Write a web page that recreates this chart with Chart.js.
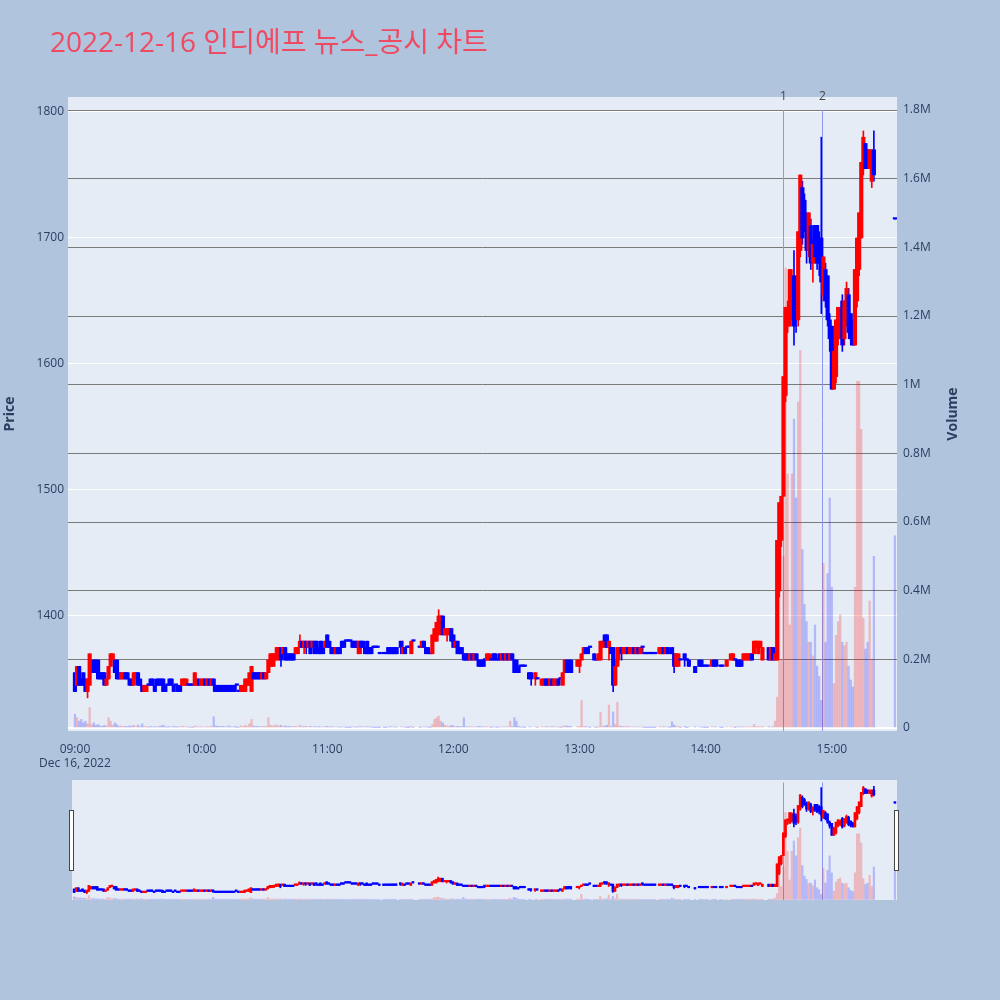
<!DOCTYPE html>
<html>
<head>
<meta charset="utf-8">
<script src="https://cdn.jsdelivr.net/npm/chart.js@4.4.0/dist/chart.umd.min.js"></script>
<style>
  body { margin: 0; width: 1000px; height: 1000px; background: #b0c4de; position: relative; overflow: hidden;
         font-family: "Open Sans", "Noto Sans CJK KR", sans-serif; }
  #main { position: absolute; left: 0; top: 0; }
  #slider { position: absolute; left: 72px; top: 780px; background: #e5ecf6; }
  #title { position: absolute; left: 50px; top: 20px; font-size: 28px; color: #ef4a62; white-space: nowrap; }
  .handle { position: absolute; top: 810px; width: 3px; height: 59px; background: #fff; border: 1px solid #444; }
</style>
</head>
<body>
<canvas id="main" width="1000" height="770"></canvas>
<canvas id="slider" width="825" height="120"></canvas>
<div class="handle" style="left:69px"></div>
<div class="handle" style="left:894px"></div>
<div id="title">2022-12-16 인디에프 뉴스_공시 차트</div>
<script>
// one entry per minute from 09:00 (index 0) to 15:30 (index 390); null = no trade
const open = [
  1355,1345,1360,1350,1355,1350,1340,1345,1355,1365, // 09:00
  1365,1365,1355,1355,1355,1345,1350,1360,1365,1365,
  1365,1355,1350,1350,1355,1355,1350,1350,1345,1350,
  1355,1350,1345,1340,1340,1345,1350,1350,1345,1350,
  1350,1350,1350,1345,1345,1350,1350,1345,1345,1345,
  1345,1345,1345,1345,1345,1345,1345,1345,1345,1350,
  1345,1345,1350,1345,1350,1345,1350,1345,1345,1345, // 10:00
  1345,1345,1345,1345,1345,1345,1345,1345,1340,1340,
  1340,1340,1345,1345,1340,1355,1355,1355,1355,1350,
  1355,1350,1355,1360,1360,1365,1365,1370,1375,1370,
  1375,1370,1370,1370,1370,1370,1370,1375,1380,1375,
  1380,1375,1380,1375,1380,1380,1375,1380,1375,1375,
  1385,1380,1375,1375,1370,1375,1375,1380,1380,1380, // 11:00
  1380,1380,1380,1380,1380,1370,1380,1380,1375,1380,
  1375,1375,1375,1375,1375,1370,null,1370,1370,1375,
  1375,1375,1375,1375,null,1380,1370,1375,1375,1375,
  1370,1380,null,null,1375,1375,1380,1375,1375,1370,
  1370,1380,1380,1385,1390,1400,1385,1385,1385,1390,
  1385,1375,1380,1375,1375,1370,1370,1370,1365,1370, // 12:00
  1365,1370,1365,1365,1365,1365,1365,1365,1365,1370,
  1370,1365,1370,1365,1370,1365,1370,1365,1370,1365,
  1365,1360,1360,1360,1360,null,1355,1355,null,1350,
  1350,null,1345,1345,1350,1350,1345,1350,1345,1345,
  1350,1350,1345,1355,1365,1365,1365,null,null,1360,
  1360,1365,1370,1375,1375,1375,null,1370,1365,1365, // 13:00
  1365,1375,1385,1385,1375,1375,1375,1345,1360,1370,
  1375,1370,1370,1375,1370,1370,1375,1370,1375,1370,
  1375,1370,1370,1370,1370,1370,1370,null,1370,1370,
  1375,1370,1375,1370,1375,1370,1360,1360,1365,null,
  1370,1365,1365,null,null,1360,null,1365,1365,1360,
  1360,1360,null,1360,1365,1365,null,1360,1360,null, // 14:00
  1360,null,1365,1365,1365,1365,1365,1365,1365,1365,
  1365,1365,1370,1370,1375,1370,1375,1365,null,null,
  1375,1365,1375,1365,1365,1420,1460,1495,1575,1640,
  1630,1640,1670,1660,1635,1690,1740,1730,1715,1690,
  1710,1680,1710,1710,1700,1700,1655,1675,1670,1635,
  1630,1580,1590,1620,1625,1650,1620,1635,1655,1640, // 15:00
  1630,1615,1650,1675,1700,1755,1775,1770,1755,1745,
  1770,null,null,null,null,null,null,null,null,null,
  1715
];
const high = [
  1355,1360,1360,1350,1355,1350,1350,1370,1365,1365,
  1365,1365,1355,1355,1355,1350,1360,1370,1370,1365,
  1365,1355,1355,1355,1355,1355,1350,1350,1355,1355,
  1355,1350,1345,1345,1345,1345,1350,1350,1345,1350,
  1350,1350,1350,1345,1345,1350,1350,1345,1345,1345,
  1345,1350,1350,1350,1345,1345,1345,1355,1350,1350,
  1350,1350,1350,1350,1350,1350,1350,1345,1345,1345,
  1345,1345,1345,1345,1345,1345,1345,1345,1340,1345,
  1345,1350,1350,1355,1360,1355,1355,1355,1355,1355,
  1355,1355,1365,1370,1370,1370,1375,1375,1375,1375,
  1375,1370,1370,1370,1370,1375,1375,1385,1380,1380,
  1380,1380,1380,1380,1380,1380,1375,1380,1375,1380,
  1385,1380,1375,1375,1375,1375,1375,1380,1380,1380,
  1380,1380,1380,1380,1380,1380,1380,1380,1375,1380,
  1375,1375,1375,1375,1375,1370,null,1370,1370,1375,
  1375,1375,1375,1375,null,1380,1380,1375,1375,1375,
  1380,1380,null,null,1375,1380,1380,1375,1375,1370,
  1385,1390,1395,1405,1400,1400,1390,1390,1390,1390,
  1385,1380,1380,1375,1375,1370,1370,1370,1370,1370,
  1370,1370,1365,1365,1365,1365,1370,1370,1365,1370,
  1370,1365,1370,1370,1370,1370,1370,1370,1370,1365,
  1365,1360,1360,1360,1360,null,1355,1355,null,1355,
  1350,null,1350,1350,1350,1350,1350,1350,1350,1350,
  1350,1350,1355,1365,1365,1365,1365,null,null,1365,
  1365,1370,1375,1375,1375,1375,null,1370,1365,1370,
  1380,1380,1385,1385,1380,1375,1375,1365,1375,1375,
  1375,1375,1375,1375,1375,1375,1375,1375,1375,1375,
  1375,1370,1370,1370,1370,1370,1370,null,1375,1375,
  1375,1375,1375,1370,1375,1370,1370,1370,1365,null,
  1370,1365,1365,null,null,1360,null,1365,1365,1360,
  1360,1360,null,1365,1365,1365,null,1360,1360,null,
  1365,null,1370,1370,1365,1365,1365,1365,1370,1370,
  1370,1370,1370,1380,1380,1380,1380,1375,null,null,
  1375,1375,1375,1375,1460,1490,1495,1590,1645,1650,
  1675,1675,1690,1670,1705,1750,1745,1735,1720,1720,
  1715,1700,1710,1710,1705,1780,1685,1680,1670,1640,
  1630,1615,1635,1645,1645,1655,1650,1665,1660,1640,
  1635,1675,1700,1720,1760,1785,1775,1770,1770,1770,
  1785,null,null,null,null,null,null,null,null,null,
  1715
];
const low = [
  1340,1345,1345,1345,1345,1340,1335,1345,1355,1355,
  1355,1350,1350,1350,1345,1345,1350,1360,1365,1355,
  1350,1350,1350,1350,1350,1350,1345,1345,1345,1350,
  1345,1345,1340,1340,1340,1345,1345,1345,1340,1345,
  1345,1345,1340,1340,1345,1345,1345,1340,1345,1340,
  1340,1345,1345,1345,1345,1345,1345,1345,1345,1345,
  1345,1345,1345,1345,1345,1345,1340,1340,1340,1340,
  1340,1340,1340,1340,1340,1340,1340,1345,1340,1340,
  1340,1340,1345,1345,1340,1350,1350,1350,1350,1350,
  1350,1350,1355,1360,1360,1360,1365,1365,1360,1370,
  1365,1365,1365,1365,1365,1370,1370,1375,1375,1370,
  1370,1375,1370,1375,1370,1370,1370,1370,1370,1375,
  1375,1375,1370,1370,1370,1370,1370,1375,1375,1380,
  1380,1380,1375,1375,1375,1370,1370,1375,1370,1370,
  1370,1370,1375,1375,1375,1370,null,1370,1370,1370,
  1370,1370,1370,1370,null,1370,1370,1370,1375,1375,
  1370,1380,null,null,1375,1375,1375,1370,1370,1370,
  1370,1380,1380,1385,1385,1385,1385,1380,1385,1380,
  1375,1375,1370,1370,1370,1365,1365,1365,1365,1365,
  1365,1365,1360,1360,1360,1360,1365,1365,1365,1365,
  1365,1365,1365,1365,1365,1365,1365,1365,1365,1355,
  1355,1355,1360,1360,1360,null,1350,1345,null,1345,
  1350,null,1345,1345,1345,1345,1345,1345,1345,1345,
  1345,1350,1345,1355,1355,1355,1355,null,null,1360,
  1355,1365,1370,1370,1370,1375,null,1365,1365,1365,
  1365,1375,1375,1375,1365,1370,1340,1345,1360,1365,
  1365,1370,1370,1370,1370,1370,1370,1370,1370,1370,
  1370,1370,1370,1370,1370,1370,1370,null,1370,1370,
  1370,1370,1370,1370,1370,1355,1360,1360,1365,null,
  1360,1365,1360,null,null,1355,null,1360,1360,1360,
  1360,1360,null,1360,1360,1360,null,1360,1360,null,
  1360,null,1365,1365,1365,1360,1360,1360,1365,1365,
  1365,1365,1365,1370,1375,1370,1375,1365,null,null,
  1365,1365,1365,1365,1365,1415,1455,1495,1570,1625,
  1630,1635,1615,1625,1630,1685,1695,1705,1680,1685,
  1675,1665,1680,1675,1670,1640,1650,1645,1630,1610,
  1580,1580,1585,1615,1620,1610,1615,1630,1620,1615,
  1615,1615,1645,1670,1700,1750,1755,1755,1755,1740,
  1745,null,null,null,null,null,null,null,null,null,
  1715
];
const close = [
  1340,1360,1345,1345,1345,1340,1350,1370,1365,1355,
  1355,1350,1350,1350,1345,1350,1360,1370,1370,1355,
  1350,1350,1355,1355,1350,1350,1345,1345,1355,1355,
  1345,1345,1340,1345,1345,1345,1345,1345,1340,1345,
  1345,1345,1340,1340,1345,1345,1345,1340,1345,1340,
  1340,1350,1350,1350,1345,1345,1345,1355,1350,1345,
  1350,1350,1345,1350,1345,1350,1345,1340,1340,1340,
  1340,1340,1340,1340,1340,1340,1340,1345,1340,1345,
  1345,1350,1350,1355,1360,1350,1350,1350,1350,1355,
  1350,1355,1365,1370,1370,1370,1375,1375,1365,1375,
  1365,1365,1365,1365,1365,1375,1375,1380,1375,1380,
  1375,1380,1370,1380,1370,1375,1370,1370,1370,1380,
  1375,1375,1370,1370,1375,1370,1370,1375,1375,1380,
  1380,1380,1375,1375,1375,1380,1375,1375,1370,1370,
  1370,1370,1375,1375,1375,1370,null,1370,1370,1370,
  1370,1370,1370,1370,null,1375,1375,1370,1375,1375,
  1380,1380,null,null,1375,1380,1375,1370,1370,1370,
  1385,1390,1395,1400,1400,1385,1390,1390,1390,1380,
  1375,1380,1370,1370,1370,1365,1365,1365,1370,1365,
  1370,1365,1360,1360,1360,1365,1370,1370,1365,1365,
  1365,1365,1365,1370,1365,1370,1365,1370,1365,1355,
  1355,1355,1360,1360,1360,null,1350,1350,null,1355,
  1350,null,1350,1350,1345,1345,1350,1345,1350,1350,
  1345,1350,1355,1365,1355,1360,1355,null,null,1365,
  1365,1370,1375,1370,1370,1375,null,1365,1365,1370,
  1380,1380,1380,1375,1380,1370,1345,1360,1375,1375,
  1370,1375,1375,1370,1375,1375,1370,1375,1370,1375,
  1375,1370,1370,1370,1370,1370,1370,null,1375,1375,
  1370,1375,1370,1370,1370,1360,1370,1370,1365,null,
  1365,1365,1360,null,null,1355,null,1360,1360,1360,
  1360,1360,null,1365,1360,1360,null,1360,1360,null,
  1365,null,1370,1370,1365,1360,1360,1360,1370,1370,
  1370,1370,1365,1380,1380,1380,1380,1375,null,null,
  1365,1375,1365,1370,1460,1490,1495,1590,1645,1645,
  1675,1670,1630,1635,1705,1750,1700,1710,1690,1720,
  1680,1695,1685,1680,1680,1665,1685,1650,1635,1620,
  1580,1610,1635,1645,1640,1615,1650,1660,1625,1620,
  1615,1675,1700,1720,1760,1780,1755,1760,1770,1770,
  1750,null,null,null,null,null,null,null,null,null,
  1715
];
const volume = [
  40000,30000,20000,25000,15000,20000,12000,60000,10000,15000,
  8000,10000,6000,5000,8000,6000,30000,20000,8000,15000,
  10000,5000,6000,4000,5000,4000,6000,5000,8000,4000,
  9000,4000,12000,5000,4000,2000,5000,3000,4000,3000,
  5000,6000,8000,4000,2000,4000,3000,5000,2000,4000,
  3000,5000,4000,3000,2000,2000,1000,6000,4000,3000,
  4000,3000,3000,4000,3000,5000,33000,6000,5000,4000,
  5000,4000,3000,6000,4000,3000,5000,1000,2000,6000,
  4000,8000,5000,12000,25000,6000,4000,5000,3000,5000,
  4000,5000,30000,8000,6000,7000,9000,5000,8000,4000,
  6000,4000,5000,3000,4000,5000,3000,8000,4000,5000,
  4000,3000,5000,3000,4000,3000,4000,3000,3000,4000,
  5000,3000,4000,3000,3000,3000,2000,3000,3000,1000,
  1000,1000,3000,3000,2000,4000,4000,3000,3000,4000,
  3000,2000,1000,1000,1000,1000,null,1000,1000,3000,
  4000,3000,3000,2000,null,3000,3000,2000,1000,1000,
  5000,1000,null,null,1000,4000,3000,3000,2000,1000,
  10000,25000,30000,35000,20000,15000,8000,6000,5000,8000,
  6000,4000,5000,4000,4000,30000,4000,3000,4000,3000,
  3000,3000,5000,4000,3000,3000,4000,3000,1000,3000,
  3000,1000,3000,3000,3000,4000,3000,20000,4000,30000,
  20000,5000,2000,2000,1000,null,3000,3000,null,3000,
  1000,null,4000,3000,4000,3000,3000,4000,3000,3000,
  3000,1000,5000,6000,6000,5000,4000,null,null,4000,
  5000,80000,5000,4000,3000,1000,null,3000,1000,2000,
  45000,5000,6000,8000,67000,4000,47000,10000,75000,6000,
  5000,4000,4000,4000,3000,3000,3000,3000,3000,3000,
  2000,1000,1000,1000,1000,1000,1000,null,4000,3000,
  4000,3000,3000,1000,18000,8000,5000,4000,1000,null,
  4000,1000,3000,null,null,4000,null,3000,3000,1000,
  1000,1000,null,4000,3000,3000,null,1000,1000,null,
  3000,null,3000,3000,1000,3000,3000,3000,4000,3000,
  3000,3000,3000,10000,4000,4000,3000,5000,null,null,
  4000,3000,4000,20000,90000,550000,200000,500000,1340000,740000,
  300000,740000,900000,670000,950000,1100000,520000,360000,310000,250000,
  250000,210000,300000,180000,150000,80000,480000,250000,450000,670000,
  410000,130000,270000,310000,330000,250000,240000,250000,180000,140000,
  120000,410000,1010000,1010000,870000,320000,230000,250000,370000,200000,
  500000,null,null,null,null,null,null,null,null,null,
  560000
];
const timeTicks = [0, 60, 120, 180, 240, 300, 360];
const priceTicks = [1400, 1500, 1600, 1700, 1800];
const volumeTicks = [0, 200000, 400000, 600000, 800000, 1000000, 1200000, 1400000, 1600000, 1800000];
const priceRange = [1308.7, 1811.9];
const volumeRange = [-8700, 1838000];
const newsMinutes = [336.8, 355.3];
const newsLabels = ['1', '2'];

const UP = '#ff0000', DOWN = '#0000ff';
const UP_VOL = 'rgba(255,0,0,0.22)', DOWN_VOL = 'rgba(0,0,255,0.22)';
const FONT = { family: '"Open Sans", "Noto Sans CJK KR", sans-serif', size: 12 };
const TXT = '#2a3f5f';

const bodies = [], wicks = [], vols = [], bodyColors = [], volColors = [];
for (let i = 0; i < open.length; i++) {
  if (open[i] == null) continue;
  const up = close[i] > open[i];
  bodies.push({ x: i, y: [open[i], close[i]] });
  wicks.push({ x: i, y: [low[i], high[i]] });
  vols.push({ x: i, y: volume[i] });
  bodyColors.push(up ? UP : DOWN);
  volColors.push(up ? UP_VOL : DOWN_VOL);
}

function datasets(bodyW, wickW, volW) {
  return [
    { data: vols, yAxisID: 'y1', backgroundColor: volColors, barThickness: volW, grouped: false, order: 3 },
    { data: wicks, yAxisID: 'y', backgroundColor: bodyColors, barThickness: wickW, grouped: false, order: 2 },
    { data: bodies, yAxisID: 'y', backgroundColor: bodyColors, barThickness: bodyW, minBarLength: 1.5, grouped: false, order: 1 }
  ];
}

const fixTicks = list => scale => { scale.ticks = list.map(v => ({ value: v })); };

const plotBg = {
  id: 'plotBg',
  beforeDraw(chart) {
    const a = chart.chartArea, ctx = chart.ctx;
    ctx.save();
    ctx.fillStyle = '#e5ecf6';
    ctx.fillRect(a.left, a.top, a.right - a.left, a.bottom - a.top);
    ctx.restore();
  }
};

function newsLines(withLabels) {
  return {
    id: 'newsLines',
    beforeDatasetsDraw(chart) {
      const ctx = chart.ctx, a = chart.chartArea;
      const top = chart.scales.y1.getPixelForValue(1800000);
      ctx.save();
      newsMinutes.forEach((m, i) => {
        const x = Math.round(chart.scales.x.getPixelForValue(m)) + 0.5;
        ctx.strokeStyle = '#8a9af4';
        ctx.lineWidth = 1;
        ctx.beginPath();
        ctx.moveTo(x, top);
        ctx.lineTo(x, a.bottom);
        ctx.stroke();
        if (withLabels) {
          ctx.fillStyle = '#444';
          ctx.font = '12px ' + FONT.family;
          ctx.textAlign = 'center';
          ctx.textBaseline = 'middle';
          ctx.fillText(newsLabels[i], x, a.top);
        }
      });
      ctx.restore();
    }
  };
}

const volumeTitle = {
  id: 'volumeTitle',
  afterDraw(chart) {
    const ctx = chart.ctx;
    ctx.save();
    ctx.translate(953, (chart.chartArea.top + chart.chartArea.bottom) / 2);
    ctx.rotate(-Math.PI / 2);
    ctx.fillStyle = TXT;
    ctx.font = 'bold 14px ' + FONT.family;
    ctx.textAlign = 'center';
    ctx.textBaseline = 'middle';
    ctx.fillText('Volume', 0, 0);
    ctx.restore();
  }
};

function hhmm(v) {
  const t = 9 * 60 + v;
  return String(Math.floor(t / 60)).padStart(2, '0') + ':' + String(t % 60).padStart(2, '0');
}

new Chart(document.getElementById('main'), {
  type: 'bar',
  data: { datasets: datasets(3.5, 1, 1.6) },
  options: {
    responsive: false,
    animation: false,
    layout: { padding: { top: 97, right: 38, left: 0, bottom: 0 } },
    plugins: { legend: { display: false }, tooltip: { enabled: false } },
    scales: {
      x: {
        type: 'linear', min: -3.3, max: 391, offset: false,
        grid: { display: false }, border: { display: false },
        afterBuildTicks: fixTicks(timeTicks),
        ticks: {
          autoSkip: false, maxRotation: 0, padding: 3, color: TXT, font: FONT,
          callback: v => v === 0 ? [hhmm(v), 'Dec 16, 2022'] : hhmm(v)
        },
        afterFit(s) { s.height = 39; }
      },
      y: {
        position: 'left', min: priceRange[0], max: priceRange[1],
        grid: { color: '#ffffff', lineWidth: 1, drawTicks: false }, border: { display: false },
        afterBuildTicks: fixTicks(priceTicks),
        ticks: { padding: 4, color: TXT, font: FONT, callback: v => String(v) },
        title: { display: true, text: 'Price', color: TXT, font: { family: FONT.family, size: 14, weight: 'bold' }, padding: 2 },
        afterFit(s) { s.width = 68; }
      },
      y1: {
        position: 'right', min: volumeRange[0], max: volumeRange[1],
        grid: {
          drawTicks: false,
          color: c => c.tick && c.tick.value === 0 ? '#ffffff' : '#7a7a7a',
          lineWidth: c => c.tick && c.tick.value === 0 ? 2 : 1
        },
        border: { display: false },
        afterBuildTicks: fixTicks(volumeTicks),
        ticks: {
          padding: 6, color: TXT, font: FONT,
          callback: v => v === 0 ? '0' : parseFloat((v / 1e6).toFixed(1)) + 'M'
        },
        afterFit(s) { s.width = 65; }
      }
    }
  },
  plugins: [plotBg, newsLines(true), volumeTitle]
});

new Chart(document.getElementById('slider'), {
  type: 'bar',
  data: { datasets: datasets(2, 1, 1.5) },
  options: {
    responsive: false,
    animation: false,
    layout: { padding: 0 },
    plugins: { legend: { display: false }, tooltip: { enabled: false } },
    scales: {
      x: { type: 'linear', min: -1, max: 391, offset: false, display: false },
      y: { min: priceRange[0], max: priceRange[1], display: false },
      y1: { min: volumeRange[0], max: volumeRange[1], display: false }
    }
  },
  plugins: [newsLines(false)]
});
</script>
</body>
</html>
